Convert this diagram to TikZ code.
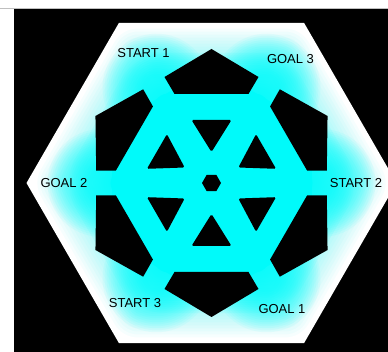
\documentclass[tikz,border=0pt]{standalone}
\usepackage{fontspec}
\setmainfont{Liberation Sans}
\definecolor{aqua}{RGB}{0,250,250}
\begin{document}
\begin{tikzpicture}[
  x=1pt, y=1pt,
  wall/.style={fill=black},
  glow/.style={draw=aqua, line cap=round, line join=round},
  tag/.style={font=\fontsize{13}{15}\selectfont, text=black, inner sep=0pt}
]
  \useasboundingbox (0,0) rectangle (388,352);
  \clip (0,0) rectangle (388,352);

  % Fondo
  \fill[white] (0,0) rectangle (388,352);
  \fill[black] (14,0) rectangle (388,343);
  \draw[gray!50, line width=0.8pt] (0,343.4) -- (388,343.4);

  \begin{scope}[shift={(211.5,169)}]
    % Hexagono exterior
    \fill[white] (0:185) -- (60:185) -- (120:185) -- (180:185)
      -- (240:185) -- (300:185) -- cycle;

    % Resplandor de la franja exterior
    \foreach \w in {56,50,...,8}
      \draw[glow, line width=\w, opacity=0.035]
        (0:146) -- (60:146) -- (120:146) -- (180:146) -- (240:146) -- (300:146) -- cycle;

    % Resplandor de los pasillos
    \foreach \w in {108,104,...,28} {
      \draw[glow, line width=\w, opacity=0.06]
        (0:88) -- (60:88) -- (120:88) -- (180:88) -- (240:88) -- (300:88) -- cycle;
      \foreach \a in {0,60,...,300}
        \draw[glow, line width=\w, opacity=0.06] (0,0) -- (\a:110);
    }
    \draw[glow, line width=26]
      (0:88) -- (60:88) -- (120:88) -- (180:88) -- (240:88) -- (300:88) -- cycle;
    \foreach \a in {0,60,...,300}
      \draw[glow, line width=26, line cap=butt] (0,0) -- (\a:100);

    % Obstaculos exteriores (pentagonos)
    \foreach \a in {0,60,...,300}
      \fill[wall, rotate=\a] (0,134) -- (47,106) -- (37,89) -- (-37,89) -- (-47,106) -- cycle;

    % Obstaculos interiores (triangulos)
    \foreach \a in {0,60,...,300}
      \fill[wall, rotate=\a, rounded corners=1.5pt] (-20,63) -- (20,63) -- (0,31) -- cycle;

    % Hexagono central
    \fill[wall] (0:9.5) -- (60:9.5) -- (120:9.5) -- (180:9.5) -- (240:9.5) -- (300:9.5) -- cycle;
  \end{scope}

  % Etiquetas
  \node[tag] (start1) at (143.5,298.5) {START 1};
  \node[tag] (goal3) at (290.5,292.5) {GOAL 3};
  \node[tag] (goal2) at (64,169) {GOAL 2};
  \node[tag] (start2) at (356,169) {START 2};
  \node[tag] (start3) at (135,49) {START 3};
  \node[tag] (goal1) at (282,43) {GOAL 1};
\end{tikzpicture}
\end{document}
